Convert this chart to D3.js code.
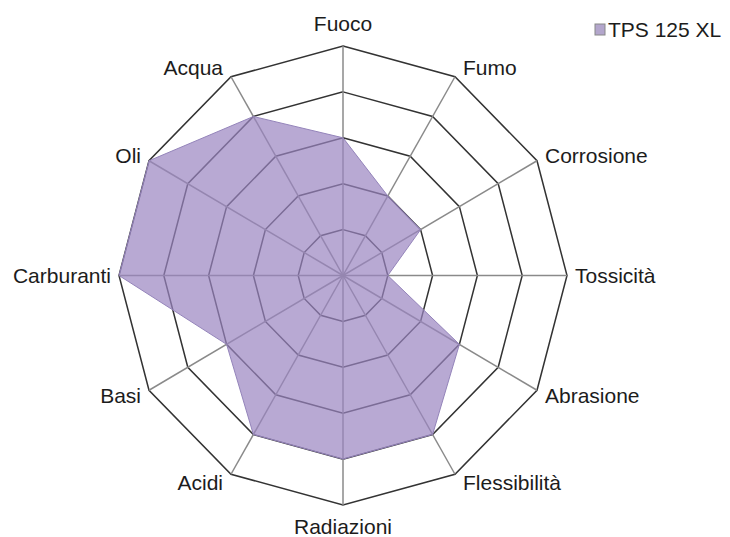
<!DOCTYPE html>
<html><head><meta charset="utf-8">
<script src="https://cdn.jsdelivr.net/npm/d3@7"></script>
<style>body{margin:0;background:#fff}svg{display:block}</style>
</head><body>
<svg id="c" width="730" height="537"></svg>
<script>
const categories = ["Fuoco","Fumo","Corrosione","Tossicità","Abrasione","Flessibilità","Radiazioni","Acidi","Basi","Carburanti","Oli","Acqua"];
const seriesName = "TPS 125 XL";
const values = [3,2,2,1,3,4,4,4,3,5,5,4];
const levels = [1,2,3,4,5];

const svg = d3.select("#c");
const cx = 343, cy = 275.5;
const rx = d3.scaleLinear().domain([0,5]).range([0,224]);
const ry = d3.scaleLinear().domain([0,5]).range([0,229.5]);
const ang = d3.scalePoint().domain(categories).range([0, 2*Math.PI*(categories.length-1)/categories.length]);
const pt = (c, v) => { const a = ang(c); return [cx + rx(v)*Math.sin(a), cy - ry(v)*Math.cos(a)]; };

const g = svg.append("g");
levels.forEach(l => {
  g.append("polygon")
    .attr("points", categories.map(c => pt(c, l).join(",")).join(" "))
    .attr("fill","none").attr("stroke","#333").attr("stroke-width",1.5);
});
categories.forEach(c => {
  const p = pt(c, 5);
  g.append("line").attr("x1",cx).attr("y1",cy).attr("x2",p[0]).attr("y2",p[1])
    .attr("stroke","#8a8a8a").attr("stroke-width",1.5);
});
g.append("polygon")
  .attr("points", categories.map((c,i) => pt(c, values[i]).join(",")).join(" "))
  .attr("fill","#9a84c0").attr("fill-opacity",0.7)
  .attr("stroke","#9484ba").attr("stroke-width",1);

categories.forEach(c => {
  const a = ang(c);
  const s = Math.sin(a), co = Math.cos(a);
  const v = pt(c, 5);
  const mid = Math.abs(s) < 0.01;
  const anchor = mid ? "middle" : (s > 0 ? "start" : "end");
  const x = mid ? v[0] : v[0] + (s > 0 ? 8 : -8);
  const yc = v[1] - co*(mid ? 22 : 10);
  svg.append("text").attr("x", x).attr("y", yc).attr("dy","0.35em")
    .attr("text-anchor", anchor)
    .attr("font-family","Liberation Sans, Arial, sans-serif").attr("font-size",21)
    .attr("fill","#1c1c1c").text(c);
});

svg.append("rect").attr("x",595).attr("y",24).attr("width",10).attr("height",11)
  .attr("fill","#b3a6cc").attr("stroke","#888").attr("stroke-width",1);
svg.append("text").attr("x",608).attr("y",30).attr("dy","0.35em")
  .attr("font-family","Liberation Sans, Arial, sans-serif").attr("font-size",21)
  .attr("fill","#1c1c1c").text(seriesName);
</script>
</body></html>
